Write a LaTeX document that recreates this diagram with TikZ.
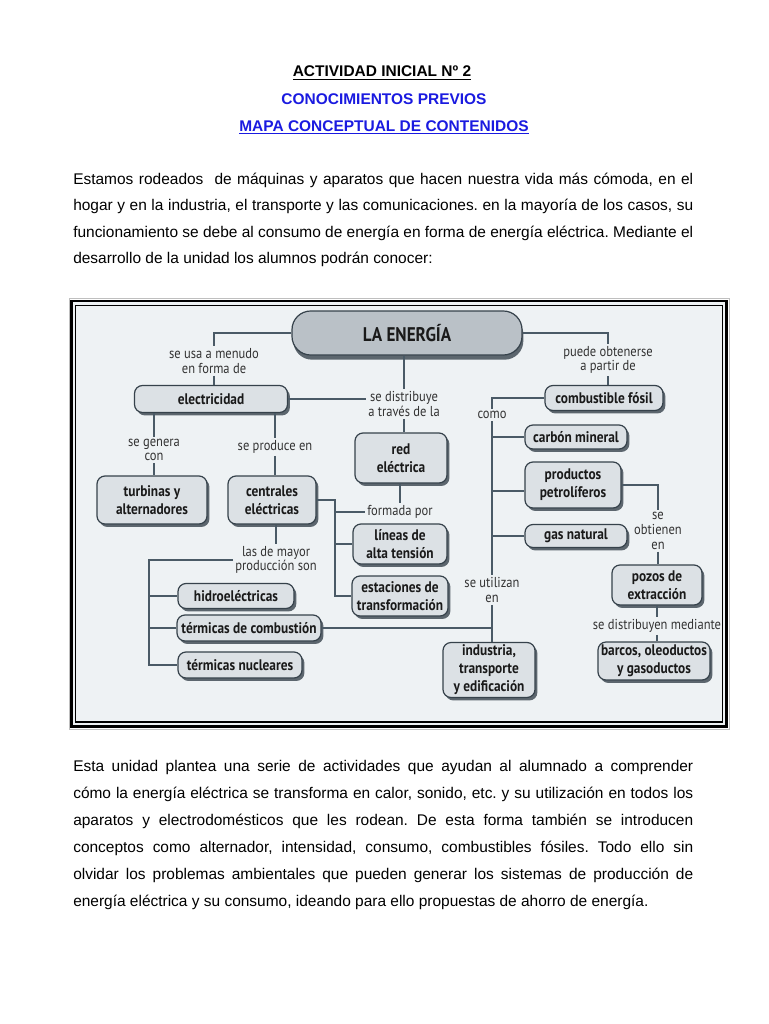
\documentclass[tikz,border=0pt]{standalone}
\usepackage{fontspec}
\setmainfont{Liberation Sans}
\newfontfamily\dfont[FakeStretch=0.87]{PT Sans}
\usetikzlibrary{shadows}
\definecolor{bgc}{HTML}{EEF2F4}
\definecolor{boxfill}{HTML}{DCE1E5}
\definecolor{boxdraw}{HTML}{36424B}
\definecolor{shadowc}{HTML}{5C666E}
\definecolor{linec}{HTML}{4A5A66}
\definecolor{titleblue}{HTML}{1A1AE0}
\definecolor{enfill}{HTML}{BAC1C7}
\definecolor{txtc}{HTML}{1A1A1A}
\newcommand\ptxt{\fontsize{11.6}{13}\selectfont}
\tikzset{
  box/.style={draw=boxdraw, line width=0.9pt, fill=boxfill, rounded corners=6pt,
    font=\dfont\bfseries\fontsize{11.5}{13.5}\selectfont, text=txtc, align=center,
    inner sep=1pt,
    drop shadow={shadow xshift=1.8pt, shadow yshift=-2.2pt, fill=shadowc, opacity=1}},
  enbox/.style={draw=boxdraw, line width=0.9pt, fill=enfill, rounded corners=14pt,
    font=\dfont\bfseries\fontsize{14.8}{16}\selectfont, text=txtc, align=center,
    drop shadow={shadow xshift=1pt, shadow yshift=-3.5pt, fill=shadowc, opacity=1}},
  lab/.style={font=\dfont\fontsize{10.8}{11}\selectfont, text=black!80, align=center, inner sep=1.5pt},
  conn/.style={draw=linec, line width=1.4pt},
  sz/.style 2 args={minimum width=#1*0.75pt, minimum height=#2*0.75pt},
  pline/.style={anchor=base west, inner sep=0pt, font=\ptxt, text=black},
  ttl/.style={anchor=base, inner sep=0pt, font=\ptxt\bfseries}
}
\begin{document}
\frenchspacing
\begin{tikzpicture}[x=0.75pt,y=-0.75pt]
\fill[white] (0,0) rectangle (768,1024);
\useasboundingbox (0,0) rectangle (768,1024);

% titles
\node[ttl, text=black] (t1) at (382,77) {\underline{ACTIVIDAD INICIAL Nº 2}};
\node[ttl, text=titleblue] (t2) at (384,104) {CONOCIMIENTOS PREVIOS};
\node[ttl, text=titleblue] (t3) at (384,131) {\underline{MAPA CONCEPTUAL DE CONTENIDOS}};

% paragraph 1
\node[pline] (pa1) at (73,184) {\makebox[465pt][s]{Estamos rodeados\ \ de máquinas y aparatos que hacen nuestra vida más cómoda, en el}};
\node[pline] (pa2) at (73,210.5) {\makebox[465pt][s]{hogar y en la industria, el transporte y las comunicaciones. en la mayoría de los casos, su}};
\node[pline] (pa3) at (73,237) {\makebox[465pt][s]{funcionamiento se debe al consumo de energía en forma de energía eléctrica. Mediante el}};
\node[pline] (pa4) at (73,263.5) {desarrollo de la unidad los alumnos podrán conocer:};

% frame
\draw[gray!50, line width=0.5pt] (69,298.5) rectangle (729.5,729.5);
\fill[bgc] (73,302) rectangle (725,725);
\draw[black, line width=2.2pt] (71.5,301) rectangle (726.5,726.5);
\draw[black, line width=1pt] (75.5,305.5) rectangle (722.5,722);

% boxes
\node[enbox, sz={230}{44}] (energia) at (407,333) {LA ENERGÍA};
\node[box, sz={153}{27}] (elec) at (211,399) {electricidad};
\node[box, sz={110}{48}] (turb) at (152,500) {turbinas y\\alternadores};
\node[box, sz={88}{48}] (cent) at (272,500) {centrales\\eléctricas};
\node[box, sz={92}{50}] (red) at (401,458) {red\\eléctrica};
\node[box, sz={94}{40}] (lin) at (400,544) {líneas de\\alta tensión};
\node[box, sz={96}{40}] (est) at (400,596) {estaciones de\\transformación};
\node[box, sz={116}{25}] (hidro) at (236,596) {hidroeléctricas};
\node[box, sz={144}{26}] (tcomb) at (249,628) {térmicas de combustión};
\node[box, sz={124}{26}] (nuc) at (240,665) {térmicas nucleares};
\node[box, sz={118}{25}] (comb) at (604,398) {combustible fósil};
\node[box, sz={102}{24}] (carbon) at (576,437) {carbón mineral};
\node[box, sz={96}{46}] (prod) at (573,485) {productos\\petrolíferos};
\node[box, sz={102}{23}] (gas) at (576,536) {gas natural};
\node[box, sz={90}{40}] (pozos) at (657,585) {pozos de\\extracción};
\node[box, sz={112}{38}] (barcos) at (654,661) {barcos, oleoductos\\y gasoductos};
\node[box, sz={92}{55}] (ind) at (489,670) {industria,\\transporte\\y edificación};

% labels
\node[lab] (usa) at (214,361) {se usa a menudo\\en forma de};
\node[lab] (distr) at (404,404) {se distribuye\\a través de la};
\node[lab] (puede) at (608,360) {puede obtenerse\\a partir de};
\node[lab] (como) at (492,415) {como};
\node[lab] (gen) at (154,450) {se genera\\con};
\node[lab] (prodc) at (275,447) {se produce en};
\node[lab] (form) at (400,512) {formada por};
\node[lab] (mayor) at (276,560) {las de mayor\\producción son};
\node[lab] (obt) at (658,531) {se\\obtienen\\en};
\node[lab] (utiliz) at (492,590) {se utilizan\\en};
\node[lab] (dist2) at (657,626) {se distribuyen mediante};

\coordinate (jc) at (335,0);
\coordinate (jm) at (149,0);

% connectors
\draw[conn] (energia.west) -| (usa.north);
\draw[conn] (usa.south) -- (usa.south |- elec.north);
\draw[conn] (distr.north |- energia.south) -- (distr.north);
\draw[conn] (distr.south) -- (distr.south |- red.north);
\draw[conn] (elec.east) -- (elec.east -| distr.west);
\draw[conn] (energia.east) -| (puede.north);
\draw[conn] (puede.south) -- (puede.south |- comb.north);
\draw[conn] (comb.west) -| (como.north);
\draw[conn] (como.south) -- (utiliz.north);
\draw[conn] (utiliz.south) -- (utiliz.south |- ind.north);
\draw[conn] (carbon.west) -- (carbon.west -| como.south);
\draw[conn] ([yshift=-4.5pt]prod.west) -- ([yshift=-4.5pt]prod.west -| como.south);
\draw[conn] (gas.west) -- (gas.west -| como.south);
\draw[conn] (prod.east) -| (obt.north);
\draw[conn] (obt.south) -- (obt.south |- pozos.north);
\draw[conn] (dist2.north |- pozos.south) -- (dist2.north);
\draw[conn] (dist2.south) -- (dist2.south |- barcos.north);
\draw[conn] (tcomb.east) -- (tcomb.east -| como.south);
\draw[conn] (gen.north |- elec.south) -- (gen.north);
\draw[conn] (gen.south) -- (gen.south |- turb.north);
\draw[conn] (prodc.north |- elec.south) -- (prodc.north);
\draw[conn] (prodc.south) -- (prodc.south |- cent.north);
\draw[conn] (cent.east) -| (jc |- est.west) -- (est.west);
\draw[conn] (jc |- form.west) -- (form.west);
\draw[conn] (jc |- lin.west) -- (lin.west);
\draw[conn] (form.north |- red.south) -- (form.north);
\draw[conn] (mayor.north |- cent.south) -- (mayor.north);
\draw[conn] (mayor.west) -| (jm |- nuc.west) -- (nuc.west);
\draw[conn] (jm |- hidro.west) -- (hidro.west);
\draw[conn] (jm |- tcomb.west) -- (tcomb.west);

% paragraph 2
\node[pline] (pb1) at (73,771.5) {\makebox[465pt][s]{Esta unidad plantea una serie de actividades que ayudan al alumnado a comprender}};
\node[pline] (pb2) at (73,798.5) {\makebox[465pt][s]{cómo la energía eléctrica se transforma en calor, sonido, etc. y su utilización en todos los}};
\node[pline] (pb3) at (73,825.5) {\makebox[465pt][s]{aparatos y electrodomésticos que les rodean. De esta forma también se introducen}};
\node[pline] (pb4) at (73,852.5) {\makebox[465pt][s]{conceptos como alternador, intensidad, consumo, combustibles fósiles. Todo ello sin}};
\node[pline] (pb5) at (73,879.5) {\makebox[465pt][s]{olvidar los problemas ambientales que pueden generar los sistemas de producción de}};
\node[pline] (pb6) at (73,906.5) {energía eléctrica y su consumo, ideando para ello propuestas de ahorro de energía.};
\end{tikzpicture}
\end{document}
